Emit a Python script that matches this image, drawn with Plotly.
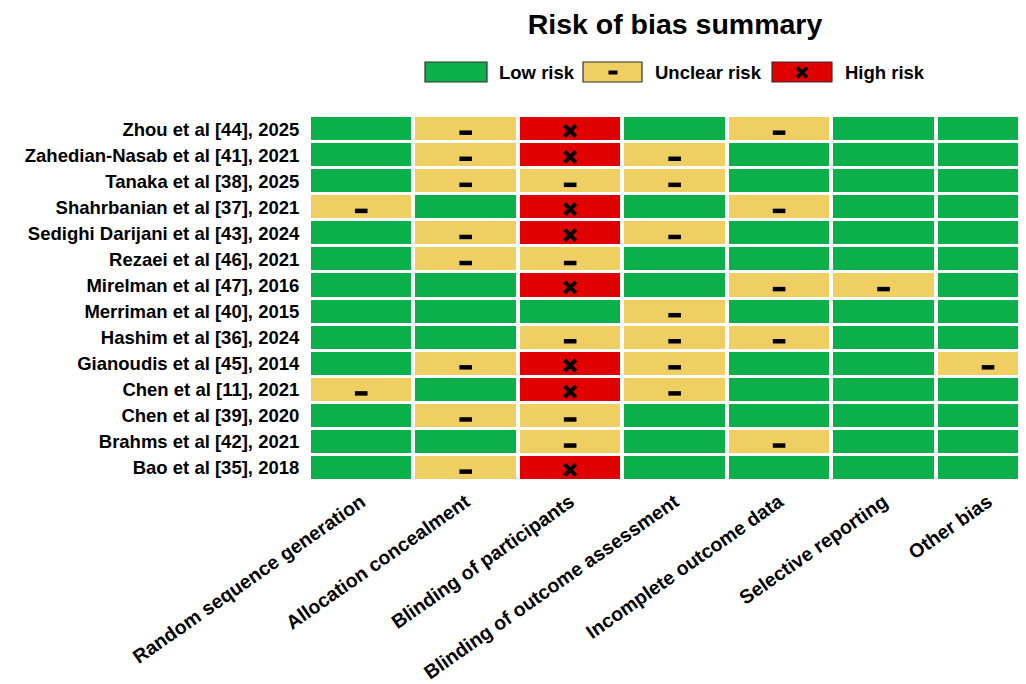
import plotly.graph_objects as go

studies = [
    "Zhou et al [44], 2025",
    "Zahedian-Nasab et al [41], 2021",
    "Tanaka et al [38], 2025",
    "Shahrbanian et al [37], 2021",
    "Sedighi Darijani et al [43], 2024",
    "Rezaei et al [46], 2021",
    "Mirelman et al [47], 2016",
    "Merriman et al [40], 2015",
    "Hashim et al [36], 2024",
    "Gianoudis et al [45], 2014",
    "Chen et al [11], 2021",
    "Chen et al [39], 2020",
    "Brahms et al [42], 2021",
    "Bao et al [35], 2018",
]
domains = [
    "Random sequence generation",
    "Allocation concealment",
    "Blinding of participants",
    "Blinding of outcome assessment",
    "Incomplete outcome data",
    "Selective reporting",
    "Other bias",
]
# L = low, U = unclear, H = high
ratings = [
    ["L", "U", "H", "L", "U", "L", "L"],
    ["L", "U", "H", "U", "L", "L", "L"],
    ["L", "U", "U", "U", "L", "L", "L"],
    ["U", "L", "H", "L", "U", "L", "L"],
    ["L", "U", "H", "U", "L", "L", "L"],
    ["L", "U", "U", "L", "L", "L", "L"],
    ["L", "L", "H", "L", "U", "U", "L"],
    ["L", "L", "L", "U", "L", "L", "L"],
    ["L", "L", "U", "U", "U", "L", "L"],
    ["L", "U", "H", "U", "L", "L", "U"],
    ["U", "L", "H", "U", "L", "L", "L"],
    ["L", "U", "U", "L", "L", "L", "L"],
    ["L", "L", "U", "L", "U", "L", "L"],
    ["L", "U", "H", "L", "L", "L", "L"],
]
legend_labels = ["Low risk", "Unclear risk", "High risk"]

GREEN = "#0BB04B"
YELLOW = "#EFCF62"
RED = "#E10000"
code = {"L": 0, "U": 1, "H": 2}
FONT = "Liberation Sans"

nrow = len(studies)
ncol = len(domains)
z = [[code[v] for v in row] for row in ratings]
xs = list(range(ncol))
ys = list(range(nrow))

# layout geometry (figure pixels)
W, H = 1026, 684
ML, MR, MT, MB = 301, 0, 108, 211
OFF = 8  # page offset of the figure div
PW = W - ML - MR
PH = H - MT - MB

fig = go.Figure()
fig.add_trace(go.Heatmap(
    z=z, x=xs, y=ys,
    colorscale=[[0, GREEN], [1/3, GREEN], [1/3, YELLOW], [2/3, YELLOW], [2/3, RED], [1, RED]],
    zmin=-0.5, zmax=2.5, showscale=False, xgap=4, ygap=3, hoverinfo="skip",
))

ux, uy, hx, hy = [], [], [], []
for i, row in enumerate(ratings):
    for j, v in enumerate(row):
        if v == "U":
            ux.append(j); uy.append(i + 0.14)
        elif v == "H":
            hx.append(j); hy.append(i + 0.07)

fig.add_trace(go.Scatter(
    x=ux, y=uy, mode="markers", hoverinfo="skip", showlegend=False,
    marker=dict(symbol="line-ew", size=9, line=dict(width=4.5, color="black")),
))
fig.add_trace(go.Scatter(
    x=hx, y=hy, mode="markers", hoverinfo="skip", showlegend=False,
    marker=dict(symbol="x-thin", size=11, line=dict(width=4, color="black")),
))

# legend drawn in paper coordinates (page pixel -> paper)
def px_x(p):
    return (p - OFF - ML) / PW

def px_y(p):
    return 1 + (MT - (p - OFF)) / PH

shapes = []
annotations = []
boxes = [(425, 487, GREEN, 497), (583, 642, YELLOW, 653), (772, 832, RED, 843)]
for (x0, x1, col, tx), lab in zip(boxes, legend_labels):
    shapes.append(dict(type="rect", xref="paper", yref="paper",
                       x0=px_x(x0), x1=px_x(x1), y0=px_y(82), y1=px_y(62),
                       fillcolor=col, line=dict(color="#333333", width=1.2)))
    annotations.append(dict(xref="paper", yref="paper", x=px_x(tx), y=px_y(73),
                            text=lab, showarrow=False, xanchor="left", yanchor="middle",
                            font=dict(family=FONT, size=18.5, color="black", weight="bold")))
# unclear-risk dash icon
shapes.append(dict(type="rect", xref="paper", yref="paper",
                   x0=px_x(608.5), x1=px_x(617.5), y0=px_y(74.5), y1=px_y(70.5),
                   fillcolor="black", line=dict(width=0)))
# high-risk cross icon
cx, cy, d = 802, 72.5, 5
shapes.append(dict(type="line", xref="paper", yref="paper",
                   x0=px_x(cx - d), x1=px_x(cx + d), y0=px_y(cy - d), y1=px_y(cy + d),
                   line=dict(color="black", width=3.5)))
shapes.append(dict(type="line", xref="paper", yref="paper",
                   x0=px_x(cx - d), x1=px_x(cx + d), y0=px_y(cy + d), y1=px_y(cy - d),
                   line=dict(color="black", width=3.5)))

fig.update_layout(
    width=W, height=H,
    margin=dict(l=ML, r=MR, t=MT, b=MB),
    paper_bgcolor="white", plot_bgcolor="white",
    title=dict(text="Risk of bias summary", x=(675 - OFF) / W, xanchor="center",
               y=1 - (24 - OFF) / H, yanchor="middle",
               font=dict(family=FONT, size=28.5, color="black", weight="bold")),
    shapes=shapes, annotations=annotations,
    showlegend=False,
    xaxis=dict(range=[-0.5, 6.44], tickvals=xs, ticktext=domains, tickangle=-35,
               ticks="outside", ticklen=1, tickcolor="rgba(0,0,0,0)",
               showgrid=False, zeroline=False, showline=False, fixedrange=True,
               tickfont=dict(family=FONT, size=19.5, color="black", weight="bold")),
    yaxis=dict(range=[nrow - 0.5, -0.5], tickvals=ys, ticktext=studies,
               ticks="outside", ticklen=5, tickcolor="rgba(0,0,0,0)",
               showgrid=False, zeroline=False, showline=False, fixedrange=True,
               tickfont=dict(family=FONT, size=18.5, color="black", weight="bold")),
)

fig.write_html("out.html")
